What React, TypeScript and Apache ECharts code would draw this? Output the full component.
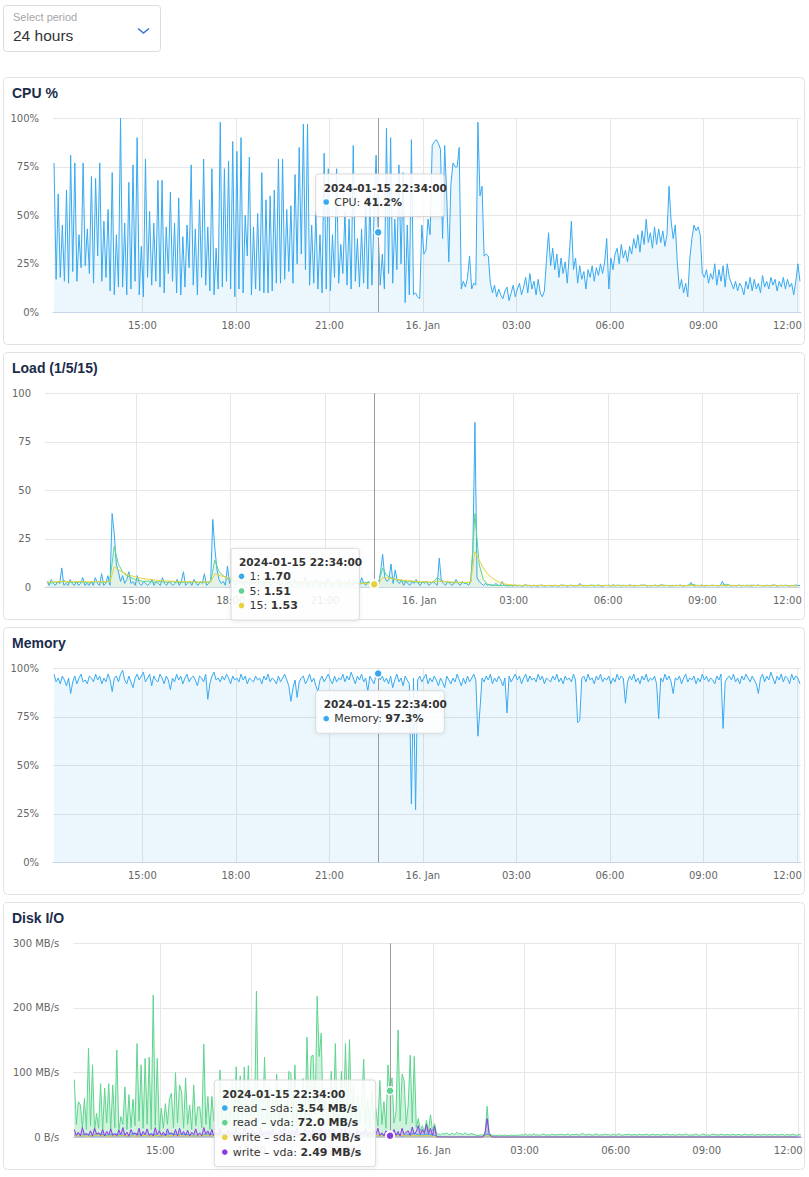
import React, { useEffect, useRef } from "react";
import * as echarts from "echarts";

// x values are minutes since 2024-01-15 00:00
const START = 730; // 12:10
const HOVER = 1354; // 22:34
const TICKS = [900, 1080, 1260, 1440, 1620, 1800, 1980, 2160];
const TICK_LABELS = ["15:00", "18:00", "21:00", "16. Jan", "03:00", "06:00", "09:00", "12:00"];

// CPU % (4-minute samples)
const cpu = [
  77,17,61,18,45,16,63,15,81,21,77,16,40,23,77,24,43,20,70,15,
  69,29,77,16,47,18,53,11,72,9,40,13,100,13,46,9,67,12,76,16,
  90,9,34,8,79,18,52,14,46,16,68,13,68,10,44,20,62,16,46,10,
  59,9,39,13,45,23,76,14,43,9,58,18,79,14,44,11,74,9,33,12,
  98,13,74,16,78,12,88,8,83,12,90,10,50,29,80,9,44,12,51,11,
  72,10,58,10,60,11,63,15,79,15,79,17,53,21,55,15,71,25,85,30,
  97,22,97,14,45,15,52,12,40,10,82,12,74,11,40,18,74,15,35,20,
  52,14,48,12,86,16,38,13,43,15,55,12,60,14,50,81,41.2,14,30,12,
  95,20,90,15,48,22,76,25,72,5,45,9,89,9,10,8,7,45,30,32,
  48,40,86,88,89,87,84,38,86,60,26,66,77,75,75,85,12,16,13,18,
  29,12,15,14,98,60,65,29,30,29,15,10,14,8,12,9,7,11,13,6,
  10,14,8,12,15,9,13,18,10,20,12,16,9,17,10,8,11,27,41,24,
  33,22,30,18,28,20,26,15,30,47,22,28,15,24,17,21,12,22,18,24,
  16,23,19,25,20,26,38,12,28,22,30,33,25,35,28,32,26,34,30,38,
  33,40,31,42,35,48,36,41,33,44,35,43,36,42,34,40,65,47,38,45,
  25,12,17,10,15,8,28,38,45,42,44,40,20,18,22,15,20,17,25,14,
  22,16,24,13,25,18,15,12,16,11,15,13,9,16,12,18,11,17,12,15,
  10,19,13,16,12,18,14,17,11,16,13,18,12,17,13,15,9,16,25,16,
];

// Load 1 (4-minute samples)
const load1 = [
  3,1,4,2,1,3,2,10,1,2,1,4,2,1,3,1,2,5,1,2,
  1,3,1,5,2,1,7,1,2,6,1,38,28,12,8,3,6,2,4,8,
  2,3,1,6,2,1,3,2,1,2,4,1,3,2,1,5,2,1,3,2,
  1,2,4,1,3,8,1,2,3,1,4,2,1,3,2,7,1,2,3,35,
  20,9,4,2,3,1,11,2,4,3,1,5,2,3,1,4,2,1,3,2,
  4,1,2,3,1,5,2,1,3,2,4,1,2,6,1,3,2,1,4,2,
  1,3,2,5,1,2,3,1,4,2,1,3,2,1,5,2,1,3,2,4,
  1,2,3,1,4,2,1,3,2,1,5,2,1,3,2,1,1.7,2,1,8,
  17,5,3,4,12,2,9,3,2,4,1,3,2,1,3,2,4,2,1,3,
  2,3,1,2,3,2,1,15,3,2,1,3,2,1,2,4,2,1,3,2,
  2,1,3,18,85,5,3,2,1,2,1,1.5,1,1,2,1,1,3,1,1,
  0.8,1,0.6,1.2,0.7,1,0.9,0.6,1.3,0.8,1,0.7,1.1,0.8,0.6,1,1.2,0.7,0.9,1,
  0.8,0.6,1.1,0.9,0.7,1.2,0.8,1,0.6,0.9,1.1,0.7,1,0.8,2,0.9,0.7,1,0.8,1.1,
  0.9,0.7,1,1.2,0.8,0.6,1,0.9,1.1,0.7,1.3,0.8,1,0.9,0.7,1.1,0.8,1,1.2,0.9,
  0.7,1,0.8,1.1,0.9,1.2,0.7,1,0.8,0.9,1.1,0.7,1,1.3,0.8,0.9,1,0.7,1.1,0.8,
  1,0.9,1.2,0.7,1,0.8,1.1,2.5,0.9,0.7,1,0.8,1.2,0.9,0.7,1,0.8,1.1,0.9,1,
  0.7,1,3,0.9,0.8,1.1,0.7,1,0.9,0.8,1.2,0.7,1,0.9,1.1,0.8,0.7,1,0.9,1.2,
  0.8,1,0.7,1.1,0.9,0.8,1,1.2,0.7,0.9,1,0.8,1.1,0.9,0.7,1,0.8,1.2,0.9,1,
];

// Load 5 (8-minute samples)
const load5 = [
  2.5,2.2,2.8,2.4,3.5,2.3,2.6,2.4,2.8,2.5,2.2,2.7,3,2.4,2.6,4,21,12,8,6,
  5,4,3.5,3,3.2,2.8,2.6,3,2.7,2.5,2.9,2.6,2.4,2.8,2.5,3,2.6,2.4,2.7,3,
  14,8,6,4.5,3.8,3.2,3,2.8,2.6,3,2.5,2.7,2.4,2.8,2.6,2.3,2.7,2.5,2.9,2.4,
  2.6,2.8,2.3,2.7,2.5,2.9,2.4,2.6,2.2,2.5,2.8,2.4,2.3,2.6,2.5,2.2,2.4,2.6,1.51,2.5,
  9.8,6,5,4,3.5,3,2.8,3.2,2.7,2.5,2.9,2.6,2.4,5,3.5,2.8,2.6,2.3,2.5,2.4,
  2.2,3,38,12,4,1.5,1.2,1,0.9,1.1,0.8,1,0.9,0.8,1.1,0.9,0.8,1,0.9,0.8,
  1,0.9,0.8,1.1,0.9,1,0.8,0.9,1,0.8,1.1,0.9,0.8,1,0.9,0.8,1.1,1,0.9,0.8,
  1,0.9,1.1,0.8,0.9,1,0.8,1.1,0.9,0.8,1,0.9,0.8,1.1,1.5,0.9,0.8,1,0.9,1,
  0.8,1.1,1.6,0.9,0.8,1,0.9,0.8,1.1,0.9,1,0.8,0.9,1.1,0.8,1,0.9,0.8,1,0.9,
];

// Load 15 (8-minute samples)
const load15 = [
  2.8,2.7,2.8,2.9,3,2.9,2.8,2.9,3,2.9,2.8,2.9,3,2.9,2.8,3,10.6,9.2,7.8,6.8,
  6,5.4,4.9,4.5,4.2,3.9,3.7,3.5,3.3,3.2,3.1,3,2.9,2.9,2.8,2.8,2.7,2.7,2.8,2.8,
  7,6.2,5.6,5,4.6,4.2,3.9,3.6,3.4,3.2,3.1,3,2.9,2.9,2.8,2.8,2.7,2.7,2.7,2.6,
  2.6,2.6,2.5,2.5,2.5,2.4,2.4,2.4,2.3,2.3,2.3,2.2,2.2,2.1,2.1,2,1.9,1.8,1.53,1.8,
  5,4.8,4.5,4.2,3.9,3.6,3.4,3.2,3,2.9,2.8,2.7,2.7,3.2,3,2.9,2.8,2.7,2.6,2.6,
  2.5,2.5,18.4,14,10,7,5,3.5,2.5,1.8,1.4,1.2,1.1,1,1,1,0.9,1,0.9,0.9,
  0.9,0.9,0.9,1,0.9,0.9,0.9,0.9,1,0.9,0.9,0.9,0.9,0.9,1,0.9,0.9,0.9,0.9,0.9,
  0.9,0.9,1,0.9,0.9,0.9,0.9,1,0.9,0.9,0.9,0.9,0.9,1,1,0.9,0.9,0.9,0.9,0.9,
  0.9,1,1,0.9,0.9,0.9,0.9,0.9,1,0.9,0.9,0.9,0.9,0.9,0.9,0.9,0.9,0.9,0.8,0.8,
];

// Memory % (4-minute samples)
const memory = [
  97,93,95,92,96,94,91,95,87,93,96,92,95,97,93,94,92,96,95,93,
  97,94,96,92,95,93,97,94,88,95,96,93,97,99,94,92,96,93,90,95,
  97,94,96,98,93,95,97,91,96,94,93,97,95,92,96,94,89,95,93,97,
  94,96,92,95,97,93,95,96,94,91,96,95,93,97,84,92,96,98,94,95,
  93,96,94,97,95,92,96,94,95,93,97,94,96,92,95,94,93,96,94,95,
  92,96,94,97,93,95,94,92,96,93,95,97,94,91,83,90,94,85,93,95,
  96,92,94,97,93,95,91,88,94,96,93,95,97,94,92,96,93,95,94,97,
  93,96,94,98,95,92,96,94,97,93,95,88,96,94,92,97,97.3,94,96,93,
  95,92,96,90,94,97,93,95,91,96,94,92,30,95,27,94,96,93,95,97,
  92,95,93,96,94,91,95,93,90,96,94,92,95,93,97,94,91,95,92,96,
  93,95,97,94,65,79,95,93,96,94,97,92,95,93,96,94,91,95,77,96,
  93,95,97,94,96,92,95,97,93,96,94,95,93,97,94,96,92,95,94,93,
  96,94,97,93,95,92,96,94,95,93,97,94,72,73,95,96,93,97,94,95,
  92,96,94,97,93,95,94,96,92,95,93,97,94,96,95,82,93,96,94,97,
  93,95,92,96,94,97,93,95,94,96,92,74,95,93,97,94,96,93,87,95,
  94,96,92,95,97,93,95,94,96,92,95,93,97,94,96,93,95,94,92,96,
  94,97,69,93,95,96,94,97,93,95,92,96,94,97,95,93,96,94,92,87,
  95,97,93,96,94,98,95,92,96,94,97,93,96,95,92,97,94,96,95,92,
];

// Disk read - sda, MB/s (12-minute samples)
const readSda = [
  4,3,5,2,6,3,4,5,3,2,6,4,3,5,2,4,6,3,5,4,
  2,3,5,4,6,3,2,5,4,3,6,2,4,5,3,4,2,6,3,5,
  4,3,2,5,4,6,3,4,5,2,3,4,3.54,5,2,4,6,3,5,4,
  1,0.8,0.6,0.5,0.7,0.5,0.6,0.4,5,0.6,0.5,0.4,0.6,0.5,0.4,0.5,0.6,0.4,0.5,0.5,
  0.4,0.6,0.5,0.4,0.5,0.6,0.5,0.4,0.5,0.6,0.4,0.5,0.5,0.6,0.4,0.5,0.4,0.6,0.5,0.5,
  0.5,0.4,0.6,0.5,0.4,0.5,0.6,0.4,0.5,0.5,0.4,0.6,0.5,0.4,0.5,0.6,0.5,0.4,0.5,0.5,
];

// Disk read - vda, MB/s (4-minute samples)
const readVda = [
  89,20,55,50,15,60,12,138,18,112,10,37,14,83,10,76,22,83,12,81,
  15,135,10,32,20,78,12,66,15,59,18,145,25,112,14,122,20,124,12,220,
  18,122,10,45,14,52,20,59,68,15,100,22,81,71,14,92,20,50,12,81,
  18,47,47,15,144,20,63,12,63,25,60,14,104,20,75,15,60,22,85,18,
  109,25,95,14,109,30,111,20,70,15,226,22,65,18,124,25,80,14,60,20,
  98,18,75,12,55,25,102,99,20,112,15,60,22,91,18,155,30,125,127,35,
  218,125,161,25,70,18,50,102,22,145,15,40,102,20,145,30,151,18,80,15,
  65,22,50,121,20,60,14,70,25,45,18,88,20,55,14,112,72,92,22,40,
  166,25,98,87,20,50,127,22,125,15,29,10,18,8,26,9,35,10,21,6,
  5,4,6,5,7,4,5,6,4,8,5,6,4,7,5,4,6,5,4,3,
  3,4,3,5,48,6,4,3,2.5,3,3.5,2.8,3,3.2,2.6,3,3.4,2.8,3,3.5,
  3,4,3.5,5,3,4.5,3,5.5,3.5,4,3,4.5,5,3.5,4,3,5,4,3.5,4.5,
  4,5,3.5,4,5.5,3,4.5,4,5,3.5,4,6,4.5,3.5,5,4,3,4.5,5,3.5,
  4,3.5,5,4,4.5,3,5,4,3.5,5.5,4,3,4.5,4,5,3.5,4,4.5,3,5,
  4,3.5,4.5,5,3,4,5,3.5,4.5,4,3,5,4,5.5,3.5,4,4.5,3,4,5,
  3.5,4,5,4.5,3,4,3.5,5,4,3,4.5,5,3.5,4,3,4.5,5,4,3.5,4,
  5,3.5,4,4.5,3,5,4,3.5,4.5,4,3,5,4.5,3.5,4,5,3,4,4.5,3.5,
  4,5,3.5,4,4.5,3,5,4,3.5,4,5,3,4.5,4,3.5,5,4,3,4.5,4,
];

// Disk write - sda, MB/s (12-minute samples)
const writeSda = [
  2,3,1.5,2.5,3.5,2,1.8,3,2.2,2.8,1.6,3.2,2.4,2,3,1.7,2.6,3.1,2.1,2.5,
  1.9,2.8,3.3,2,2.4,2.9,1.8,2.6,3,2.2,1.7,2.7,3.2,2.3,2,2.8,2.5,1.9,3,2.4,
  2.1,2.7,3.1,2.2,1.8,2.6,2.9,2.3,2,2.5,2.8,2.1,2.6,2.4,3,1.9,2.7,2.2,2.5,2,
  0.3,0.2,0.3,0.2,0.2,0.3,0.2,0.2,3,0.3,0.2,0.2,0.3,0.2,0.2,0.3,0.2,0.2,0.3,0.2,
  0.2,0.3,0.2,0.2,0.3,0.2,0.2,0.3,0.2,0.2,0.3,0.2,0.2,0.3,0.2,0.2,0.3,0.2,0.2,0.3,
  0.2,0.2,0.3,0.2,0.3,0.2,0.2,0.3,0.2,0.2,0.3,0.2,0.3,0.2,0.2,0.3,0.2,0.2,0.3,0.2,
];

// Disk write - vda, MB/s (4-minute samples)
const writeVda = [
  12,3,8,2,15,4,6,3,10,2,14,5,7,3,12,2,9,4,13,3,
  6,2,11,4,15,3,8,2,12,5,7,3,14,2,9,4,13,3,6,2,
  15,4,10,3,8,2,13,5,7,3,12,2,14,4,9,3,11,2,8,4,
  13,3,7,2,15,5,10,3,12,2,8,4,14,3,6,2,11,5,9,3,
  13,2,7,4,15,3,10,2,12,5,8,3,14,2,9,4,11,3,13,2,
  7,4,12,3,15,2,9,5,11,3,14,2,8,4,13,3,10,2,12,5,
  7,3,15,2,9,4,11,3,13,2,8,5,12,3,14,2,10,4,7,3,
  12,2,9,5,13,3,8,2,11,4,14,3,7,2,10,5,2.49,4,12,3,
  9,2,14,4,8,10,3,16,5,9,18,4,12,6,20,5,14,3,17,0.8,
  0.5,0.4,0.3,0.5,0.3,0.4,0.3,0.3,0.4,0.3,0.5,0.3,0.4,0.3,0.3,0.4,0.3,0.5,0.3,0.4,
  0.3,0.4,0.5,8,29,6,1,0.4,0.3,0.3,0.4,0.3,0.3,0.4,0.3,0.3,0.3,0.4,0.3,0.3,
  0.3,0.4,0.3,0.3,0.4,0.3,0.5,0.3,0.4,0.3,0.3,0.4,0.3,0.4,0.3,0.3,0.5,0.3,0.4,0.3,
  0.4,0.3,0.3,0.5,0.3,0.4,0.3,0.3,0.4,0.3,0.5,0.3,0.3,0.4,0.3,0.4,0.3,0.3,0.5,0.3,
  0.3,0.4,0.3,0.3,0.4,0.3,0.3,0.5,0.3,0.4,0.3,0.3,0.4,0.3,0.5,0.3,0.3,0.4,0.3,0.3,
  0.4,0.3,0.5,0.3,0.3,0.4,0.3,0.3,0.4,0.3,0.3,0.5,0.3,0.4,0.3,0.3,0.4,0.3,0.3,0.4,
  0.3,0.3,0.4,0.3,0.5,0.3,0.4,0.3,0.3,0.4,0.3,0.3,0.5,0.3,0.4,0.3,0.3,0.4,0.3,0.5,
  0.3,0.4,0.3,0.3,0.5,0.3,0.3,0.4,0.3,0.4,0.3,0.3,0.4,0.3,0.5,0.3,0.3,0.4,0.3,0.3,
  0.4,0.3,0.3,0.4,0.3,0.5,0.3,0.3,0.4,0.3,0.3,0.4,0.3,0.5,0.3,0.3,0.4,0.3,0.3,0.4,
];

const BLUE = "#38a9ef";
const GREEN = "#5fd48e";
const YELLOW = "#e6d23c";
const PURPLE = "#8a3ce3";
const AX_FONT = "DejaVu Sans";
const TIP_FONT = "DejaVu Sans";
const UI_FONT = "Liberation Sans";

const idxAt = (step: number) => (HOVER - START) / step;
const labelFor = (v: number) => {
  const k = TICKS.indexOf(Math.round(v));
  if (k < 0) return "";
  // last label is kept inside the plot, shifted left like the reference
  return k === TICKS.length - 1 ? `{e|${TICK_LABELS[k]}}` : TICK_LABELS[k];
};

function makeXAxis(gi: number, min: number, max: number) {
  return {
    type: "value",
    gridIndex: gi,
    min,
    max,
    axisLine: { show: true, lineStyle: { color: "#ccd6eb", width: 1 } },
    axisTick: { show: false, customValues: TICKS },
    axisLabel: {
      customValues: TICKS,
      formatter: (v: number) => labelFor(v),
      color: "#666",
      fontSize: 10,
      fontFamily: AX_FONT,
      margin: 8,
      rich: { e: { color: "#666", fontSize: 10, fontFamily: AX_FONT, padding: [0, 19, 0, 0] } },
    },
    splitLine: { show: true, lineStyle: { color: "#e6e6e6", width: 1 } },
  };
}

function makeYAxis(gi: number, max: number, interval: number, fmt: (v: number) => string) {
  return {
    type: "value",
    gridIndex: gi,
    min: 0,
    max,
    interval,
    axisLine: { show: false },
    axisTick: { show: false },
    axisLabel: { formatter: fmt, color: "#666", fontSize: 10, fontFamily: AX_FONT, margin: 14 },
    splitLine: { show: true, lineStyle: { color: "#e6e6e6", width: 1 } },
  };
}

function lineSeries(name: string, values: number[], step: number, gi: number, color: string, areaOpacity: number, withCross: boolean) {
  const hv = values[idxAt(step)];
  const s: any = {
    name,
    type: "line",
    xAxisIndex: gi,
    yAxisIndex: gi,
    data: values.map((v, i) => [START + i * step, v]),
    showSymbol: false,
    symbol: "none",
    silent: true,
    lineStyle: { width: 1, color },
    itemStyle: { color },
    areaStyle: { color, opacity: areaOpacity },
    markPoint: {
      symbol: "circle",
      symbolSize: 8,
      silent: true,
      label: { show: false },
      itemStyle: { color, borderColor: "#fff", borderWidth: 1.5 },
      data: [{ coord: [HOVER, hv] }],
    },
  };
  if (withCross) {
    s.markLine = {
      silent: true,
      symbol: "none",
      label: { show: false },
      lineStyle: { color: "#9a9a9a", width: 1, type: "solid" },
      data: [{ xAxis: HOVER }],
    };
  }
  return s;
}

function tooltipBox(x: number, y: number, w: number, title: string, lines: { color: string; label: string; value: string }[]) {
  const h = 28 + (lines.length - 1) * 14.7 + 14.5;
  const els: any[] = [
    {
      type: "rect",
      z: 100,
      shape: { x, y, width: w, height: h, r: 3 },
      style: { fill: "rgba(255,255,255,0.88)", stroke: "#d9d9d9", lineWidth: 1, shadowBlur: 4, shadowColor: "rgba(0,0,0,0.08)", shadowOffsetY: 1 },
    },
    {
      type: "text",
      z: 101,
      x: x + 8,
      y: y + 13.7,
      style: { text: title, fontFamily: TIP_FONT, fontSize: 10.5, fontWeight: "bold", fill: "#333", verticalAlign: "middle" },
    },
  ];
  lines.forEach((ln, k) => {
    const cy = y + 28 + k * 14.7;
    els.push({ type: "circle", z: 101, shape: { cx: x + 10.5, cy, r: 2.8 }, style: { fill: ln.color } });
    els.push({
      type: "text",
      z: 101,
      x: x + 18.5,
      y: cy,
      style: {
        text: `{r|${ln.label}: }{b|${ln.value}}`,
        verticalAlign: "middle",
        rich: {
          r: { fontFamily: TIP_FONT, fontSize: 11, fill: "#333" },
          b: { fontFamily: TIP_FONT, fontSize: 11, fontWeight: "bold", fill: "#333" },
        },
      },
    });
  });
  return els;
}

const PANEL_TOPS = [77.5, 352.5, 627.5, 902.5];
const PANEL_TITLES = ["CPU %", "Load (1/5/15)", "Memory", "Disk I/O"];

export default function App() {
  const ref = useRef<HTMLDivElement>(null);
  useEffect(() => {
    if (!ref.current) return;
    const chart = echarts.init(ref.current, undefined, { renderer: "svg" });

    const tipTitle = "2024-01-15 22:34:00";
    const graphics: any[] = [
      { type: "rect", z: -5, shape: { x: 3.5, y: 5.5, width: 157, height: 46, r: 3 }, style: { fill: "#fff", stroke: "#dcdcdc", lineWidth: 1 } },
      { type: "text", z: -4, x: 13, y: 17, style: { text: "Select period", fontFamily: UI_FONT, fontSize: 11, fill: "#a6a6a6", verticalAlign: "middle" } },
      { type: "text", z: -4, x: 13, y: 35.5, style: { text: "24 hours", fontFamily: UI_FONT, fontSize: 15.5, fill: "#333", verticalAlign: "middle" } },
      { type: "polyline", z: -4, shape: { points: [[138, 28.5], [143.5, 33], [149, 28.5]] }, style: { stroke: "#3b73d9", lineWidth: 1.5, fill: null } },
    ];
    PANEL_TOPS.forEach((top, k) => {
      graphics.push({ type: "rect", z: -10, shape: { x: 3.5, y: top, width: 801, height: 267, r: 4 }, style: { fill: "#fff", stroke: "#e2e2e2", lineWidth: 1 } });
      graphics.push({ type: "text", z: -4, x: 12, y: top + 15.8, style: { text: PANEL_TITLES[k], fontFamily: UI_FONT, fontSize: 14, fontWeight: "bold", fill: "#1c2b4a", verticalAlign: "middle" } });
    });
    graphics.push(
      ...tooltipBox(315.7, 174, 128.6, tipTitle, [{ color: BLUE, label: "CPU", value: `${cpu[idxAt(4)].toFixed(1)}%` }]),
      ...tooltipBox(231, 548.3, 128.3, tipTitle, [
        { color: BLUE, label: "1", value: load1[idxAt(4)].toFixed(2) },
        { color: GREEN, label: "5", value: load5[idxAt(8)].toFixed(2) },
        { color: YELLOW, label: "15", value: load15[idxAt(8)].toFixed(2) },
      ]),
      ...tooltipBox(315.7, 690.7, 128.6, tipTitle, [{ color: BLUE, label: "Memory", value: `${memory[idxAt(4)].toFixed(1)}%` }]),
      ...tooltipBox(214.3, 1080, 161.4, tipTitle, [
        { color: BLUE, label: "read – sda", value: `${readSda[idxAt(12)].toPrecision(3)} MB/s` },
        { color: GREEN, label: "read – vda", value: `${readVda[idxAt(4)].toPrecision(3)} MB/s` },
        { color: YELLOW, label: "write – sda", value: `${writeSda[idxAt(12)].toPrecision(3)} MB/s` },
        { color: PURPLE, label: "write – vda", value: `${writeVda[idxAt(4)].toPrecision(3)} MB/s` },
      ])
    );

    const pct = (v: number) => `${v}%`;
    chart.setOption({
      animation: false,
      backgroundColor: "#fff",
      tooltip: { show: false },
      grid: [
        { left: 53, top: 118.3, width: 748, height: 194, outerBoundsMode: "none" },
        { left: 45, top: 393.3, width: 755, height: 194, outerBoundsMode: "none" },
        { left: 53, top: 668.3, width: 748, height: 194, outerBoundsMode: "none" },
        { left: 73.3, top: 943.3, width: 728.5, height: 194, outerBoundsMode: "none" },
      ],
      xAxis: [makeXAxis(0, 728, 2168), makeXAxis(1, 726, 2166), makeXAxis(2, 728, 2168), makeXAxis(3, 728, 2168)],
      yAxis: [
        makeYAxis(0, 100, 25, pct),
        makeYAxis(1, 100, 25, (v) => `${v}`),
        makeYAxis(2, 100, 25, pct),
        makeYAxis(3, 300, 100, (v) => (v === 0 ? "0 B/s" : `${v} MB/s`)),
      ],
      series: [
        lineSeries("CPU", cpu, 4, 0, BLUE, 0.1, true),
        lineSeries("1", load1, 4, 1, BLUE, 0.08, true),
        lineSeries("5", load5, 8, 1, GREEN, 0.08, false),
        lineSeries("15", load15, 8, 1, YELLOW, 0.08, false),
        lineSeries("Memory", memory, 4, 2, BLUE, 0.1, true),
        lineSeries("read – sda", readSda, 12, 3, BLUE, 0.2, true),
        lineSeries("read – vda", readVda, 4, 3, GREEN, 0.3, false),
        lineSeries("write – sda", writeSda, 12, 3, YELLOW, 0.2, false),
        lineSeries("write – vda", writeVda, 4, 3, PURPLE, 0.25, false),
      ],
      graphic: { elements: graphics },
    });
    return () => chart.dispose();
  }, []);
  return <div ref={ref} style={{ position: "absolute", left: 0, top: 0, width: 809, height: 1177 }} />;
}
